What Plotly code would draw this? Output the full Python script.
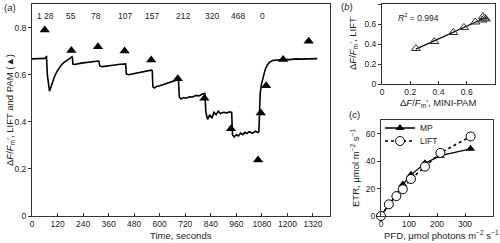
import numpy as np
import plotly.graph_objects as go

# ---------- Panel (a) data ----------
lift_time = [0, 20, 40, 60, 66, 68,
             72, 78, 82, 88, 95, 105, 115, 125, 135, 145, 155, 165, 175, 182, 188, 190,
             192, 200, 210, 225, 240, 255, 270, 285, 300, 312, 315,
             318, 330, 345, 360, 375, 390, 405, 420, 435, 440,
             443, 455, 470, 485, 500, 515, 530, 545, 560, 565,
             568, 575, 585, 600, 615, 630, 645, 660, 675, 688,
             692, 700, 712, 725, 740, 755, 770, 785, 800, 812,
             817, 825, 835, 845, 855, 865, 875, 885, 900, 915, 930, 938,
             942, 950, 960, 970, 980, 990, 1000, 1010, 1020, 1035, 1050, 1062,
             1066, 1068, 1072, 1078, 1085, 1095, 1105, 1115, 1130, 1145, 1165, 1185,
             1210, 1240, 1270, 1300, 1320, 1340]
lift_value = [0.667, 0.668, 0.667, 0.669, 0.672, 0.680,
              0.600, 0.535, 0.530, 0.545, 0.565, 0.590, 0.610, 0.625, 0.638, 0.648, 0.656, 0.662, 0.667, 0.672, 0.676, 0.672,
              0.645, 0.643, 0.646, 0.648, 0.650, 0.652, 0.654, 0.655, 0.657, 0.658, 0.655,
              0.637, 0.634, 0.635, 0.637, 0.639, 0.641, 0.643, 0.645, 0.648, 0.646,
              0.603, 0.600, 0.603, 0.606, 0.608, 0.611, 0.613, 0.616, 0.619, 0.617,
              0.548, 0.543, 0.550, 0.553, 0.558, 0.562, 0.566, 0.570, 0.575, 0.580,
              0.505, 0.497, 0.503, 0.500, 0.506, 0.505, 0.512, 0.510, 0.518, 0.520,
              0.440, 0.410, 0.430, 0.415, 0.440, 0.430, 0.445, 0.435, 0.440, 0.438, 0.442, 0.440,
              0.345, 0.335, 0.345, 0.340, 0.352, 0.345, 0.355, 0.350, 0.358, 0.352, 0.360, 0.355,
              0.360, 0.450, 0.520, 0.560, 0.590, 0.620, 0.640, 0.652, 0.660, 0.662, 0.663, 0.665,
              0.664, 0.667, 0.666, 0.668, 0.667, 0.668]

pam_time = [60, 185, 310, 435, 560, 685, 810, 935, 1062, 1075, 1100, 1180, 1300]
pam_value = [0.790, 0.703, 0.718, 0.700, 0.662, 0.583, 0.500, 0.370, 0.238, 0.437, 0.553, 0.664, 0.742]

light_labels = ["1", "28", "55", "78", "107", "157", "212", "320", "468", "0"]
light_label_time = [33, 80, 185, 300, 435, 565, 710, 845, 970, 1085]

# ---------- Panel (b) data ----------
pam_b = [0.24, 0.37, 0.505, 0.58, 0.66, 0.71, 0.715, 0.725, 0.735]
lift_b = [0.355, 0.425, 0.515, 0.565, 0.62, 0.64, 0.675, 0.66, 0.65]

# ---------- Panel (c) data ----------
pfd = [0, 28, 55, 78, 107, 157, 212, 320]
etr_mp = [0, 8.5, 15.5, 23, 30, 38.5, 44, 49]
etr_lift = [0, 8.5, 14.5, 19.5, 27, 36, 46, 58]

FONT = "Liberation Sans, Arial, sans-serif"
INK = "#222222"
W, H = 500, 243
TICK = 8.5
TITLE = 9.5


def px(x):
    return x / W


def py(y):
    return 1 - y / H


fig = go.Figure()

# (a)
fig.add_trace(go.Scatter(x=lift_time, y=lift_value, mode="lines",
                         line=dict(color="black", width=1.6), showlegend=False,
                         xaxis="x", yaxis="y"))
fig.add_trace(go.Scatter(x=pam_time, y=pam_value, mode="markers",
                         marker=dict(symbol="triangle-up", size=9, color="black"),
                         showlegend=False, xaxis="x", yaxis="y", cliponaxis=False))

# (b)
coef = np.polyfit(pam_b, lift_b, 1)
fit_x = [min(pam_b), max(pam_b)]
fit_y = [coef[0] * v + coef[1] for v in fit_x]
fig.add_trace(go.Scatter(x=fit_x, y=fit_y, mode="lines", line=dict(color="black", width=1.2),
                         showlegend=False, xaxis="x2", yaxis="y2"))
fig.add_trace(go.Scatter(x=pam_b, y=lift_b, mode="markers",
                         marker=dict(symbol="triangle-up-open", size=8, color="#333333",
                                     line=dict(width=1)),
                         showlegend=False, xaxis="x2", yaxis="y2"))

# (c)
fig.add_trace(go.Scatter(x=pfd, y=etr_mp, mode="lines+markers", name="MP",
                         line=dict(color="black", width=1.3),
                         marker=dict(symbol="triangle-up", size=8, color="black"),
                         xaxis="x3", yaxis="y3", cliponaxis=False, legend="legend"))
fig.add_trace(go.Scatter(x=pfd, y=etr_lift, mode="lines+markers", name="LIFT",
                         line=dict(color="black", width=1.6, dash="dot"),
                         marker=dict(symbol="circle", size=9, color="white",
                                     line=dict(color="black", width=1)),
                         xaxis="x3", yaxis="y3", cliponaxis=False, legend="legend2"))

axis_common = dict(showgrid=False, zeroline=False, showline=True, linecolor="#333333",
                   linewidth=1, mirror=True, tickfont=dict(family=FONT, size=TICK, color=INK),
                   ticklen=3, tickcolor="#333333", automargin=False)

legend_common = dict(xanchor="left", yanchor="middle", bgcolor="rgba(0,0,0,0)",
                     font=dict(family=FONT, size=TICK, color=INK), itemwidth=30)

fig.update_layout(
    width=W, height=H,
    margin=dict(l=0, r=0, t=0, b=0, autoexpand=False),
    paper_bgcolor="white", plot_bgcolor="white",
    font=dict(family=FONT, size=TITLE, color=INK),
    xaxis=dict(domain=[px(32), px(330)], range=[0, 1400], tickvals=list(range(0, 1321, 120)),
               ticks="inside", anchor="y", **axis_common),
    yaxis=dict(domain=[py(216), py(4)], range=[0, 0.9], tickvals=[0, 0.2, 0.4, 0.6, 0.8],
               ticktext=["0", "0.2", "0.4", "0.6", "0.8"], ticks="outside", anchor="x", **axis_common),
    xaxis2=dict(domain=[px(382), px(495)], range=[0, 0.8], tickvals=[0, 0.2, 0.4, 0.6, 0.8],
                ticktext=["0", "0.2", "0.4", "0.6", "0.8"], ticks="inside", anchor="y2", **axis_common),
    yaxis2=dict(domain=[py(84), py(4)], range=[0, 0.8], tickvals=[0, 0.2, 0.4, 0.6, 0.8],
                ticktext=["0", "0.2", "0.4", "0.6", "0.8"], ticks="outside", anchor="x2", **axis_common),
    xaxis3=dict(domain=[px(381), px(493)], range=[0, 400], tickvals=[0, 100, 200, 300, 400],
                ticks="inside", anchor="y3", **axis_common),
    yaxis3=dict(domain=[py(216), py(120)], range=[0, 70], tickvals=[0, 20, 40, 60],
                ticks="outside", anchor="x3", **axis_common),
    legend=dict(x=px(380), y=py(128), **legend_common),
    legend2=dict(x=px(380), y=py(141), **legend_common),
)


def note(x, y, text, size=TITLE, angle=0, xanchor="center"):
    return dict(x=px(x), y=py(y), xref="paper", yref="paper", text=text, textangle=angle,
                showarrow=False, xanchor=xanchor, yanchor="middle",
                font=dict(family=FONT, size=size, color=INK))


ann = []
for lab, t in zip(light_labels, light_label_time):
    ann.append(dict(x=t, y=0.847, xref="x", yref="y", text=lab, showarrow=False,
                    xanchor="center", yanchor="middle",
                    font=dict(family=FONT, size=TICK, color=INK)))
# panel letters
ann.append(note(2, 8, "(<i>a</i>)", xanchor="left"))
ann.append(note(339, 6, "(<i>b</i>)", xanchor="left"))
ann.append(note(347, 115, "(<i>c</i>)", xanchor="left"))
# axis titles
ann.append(note(10, 110, "Δ<i>F</i>/<i>F</i><sub>m</sub>′, LIFT and PAM (▲)", angle=-90))
ann.append(note(181, 235.5, "Time, seconds"))
ann.append(note(353, 44, "Δ<i>F</i>/<i>F</i><sub>m</sub>′, LIFT", angle=-90))
ann.append(note(438, 103, "Δ<i>F</i>/<i>F</i><sub>m</sub>′, MINI-PAM"))
ann.append(note(355, 168, "ETR, μmol m<sup>−2</sup> s<sup>−1</sup>", angle=-90))
ann.append(note(441, 235, "PFD, μmol photons m<sup>−2</sup> s<sup>−1</sup>"))
ann.append(note(418, 17, "<i>R</i><sup>2</sup> = 0.994", size=TICK))
fig.update_layout(annotations=ann)

fig.write_html("out.html", post_script="document.body.style.margin='0';",
               config={"displayModeBar": False})
